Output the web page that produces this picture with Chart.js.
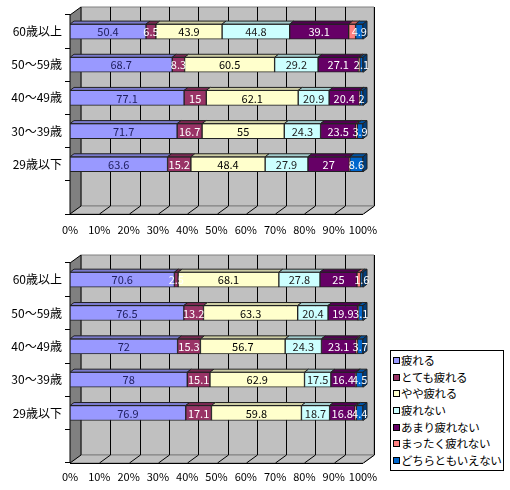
<!DOCTYPE html>
<html>
<head>
<meta charset="utf-8">
<script src="https://cdn.jsdelivr.net/npm/chart.js@4.4.1/dist/chart.umd.min.js"></script>
<style>
body { margin: 0; background: #fff; font-family: "Noto Sans CJK JP", sans-serif; }
#wrap { position: relative; width: 510px; height: 490px; }
canvas { position: absolute; left: 0; }
#topChart { top: 0; }
#bottomChart { top: 245px; }
#legend { position: absolute; left: 390px; top: 350px; width: 110px; border: 1px solid #000; background: #fff; padding: 1px 0 1px 2px; font-size: 11.5px; letter-spacing: -0.3px; color: #000; }
#legend div { height: 16.7px; line-height: 16.7px; white-space: nowrap; }
#legend .sw { display: inline-block; width: 5px; height: 5px; border: 1px solid #000; margin-right: 1px; vertical-align: 1px; }
</style>
</head>
<body>
<div id="wrap">
  <canvas id="topChart" width="510" height="245"></canvas>
  <canvas id="bottomChart" width="510" height="245"></canvas>
  <div id="legend"></div>
</div>
<script>
const ageGroups = ['60歳以上', '50～59歳', '40～49歳', '30～39歳', '29歳以下'];
const seriesNames = ['疲れる', 'とても疲れる', 'やや疲れる', '疲れない', 'あまり疲れない', 'まったく疲れない', 'どちらともいえない'];
const seriesColors = ['#9999FF', '#993366', '#FFFFCC', '#CCFFFF', '#660066', '#FF8080', '#0066CC'];
const labelColors = ['#202060', '#ffffff', '#000000', '#202020', '#ffffff', null, '#ffffff'];
const xTicks = [0, 10, 20, 30, 40, 50, 60, 70, 80, 90, 100];

// upper chart
const topTsukareru  = [50.4, 68.7, 77.1, 71.7, 63.6];
const topTotemo     = [6.5, 8.3, 15, 16.7, 15.2];
const topYaya       = [43.9, 60.5, 62.1, 55, 48.4];
const topTsukarenai = [44.8, 29.2, 20.9, 24.3, 27.9];
const topAmari      = [39.1, 27.1, 20.4, 23.5, 27];
const topMattaku    = [4.6, 1, 0.5, 1, 0.3];
const topDochira    = [4.9, 2.1, 2, 3.9, 8.6];

// lower chart
const botTsukareru  = [70.6, 76.5, 72, 78, 76.9];
const botTotemo     = [2.5, 13.2, 15.3, 15.1, 17.1];
const botYaya       = [68.1, 63.3, 56.7, 62.9, 59.8];
const botTsukarenai = [27.8, 20.4, 24.3, 17.5, 18.7];
const botAmari      = [25, 19.9, 23.1, 16.4, 16.8];
const botMattaku    = [2.5, 0.5, 1, 0.5, 1];
const botDochira    = [1.6, 3.1, 3.7, 4.5, 4.4];

const topSeries = [topTsukareru, topTotemo, topYaya, topTsukarenai, topAmari, topMattaku, topDochira];
const botSeries = [botTsukareru, botTotemo, botYaya, botTsukarenai, botAmari, botMattaku, botDochira];

const FONT = '"Noto Sans CJK JP", sans-serif';
const DX = 11, DY = -8;     // wall depth
const BX = 4, BY = 3;       // bar depth

function shade(hex, f) {
    const n = parseInt(hex.slice(1), 16);
    const r = Math.round(((n >> 16) & 255) * f);
    const g = Math.round(((n >> 8) & 255) * f);
    const b = Math.round((n & 255) * f);
    return `rgb(${r},${g},${b})`;
}

function poly(ctx, pts, fill, stroke) {
    ctx.beginPath();
    ctx.moveTo(pts[0][0], pts[0][1]);
    for (let i = 1; i < pts.length; i++) ctx.lineTo(pts[i][0], pts[i][1]);
    ctx.closePath();
    if (fill) { ctx.fillStyle = fill; ctx.fill(); }
    if (stroke) { ctx.strokeStyle = stroke; ctx.lineWidth = 1; ctx.stroke(); }
}

const wallPlugin = {
    id: 'walls',
    beforeDatasetsDraw(chart) {
        const ctx = chart.ctx;
        const a = chart.chartArea;
        const x = chart.scales.x;
        ctx.save();
        // back wall
        poly(ctx, [[a.left + DX, a.top + DY], [a.right + DX, a.top + DY], [a.right + DX, a.bottom + DY], [a.left + DX, a.bottom + DY]], '#c0c0c0', '#808080');
        // floor
        poly(ctx, [[a.left, a.bottom], [a.left + DX, a.bottom + DY], [a.right + DX, a.bottom + DY], [a.right, a.bottom]], '#c0c0c0', '#808080');
        // grid lines
        ctx.strokeStyle = '#000';
        ctx.lineWidth = 1;
        for (const v of xTicks) {
            if (v === 0) continue;
            const px = Math.round(x.getPixelForValue(v)) + 0.5;
            ctx.beginPath();
            ctx.moveTo(px + DX, a.top + DY);
            ctx.lineTo(px + DX, a.bottom + DY);
            ctx.lineTo(px, a.bottom);
            ctx.stroke();
        }
        // floor front edge
        ctx.beginPath();
        ctx.moveTo(a.left, a.bottom + 0.5);
        ctx.lineTo(a.right, a.bottom + 0.5);
        ctx.stroke();
        // left wall
        poly(ctx, [[a.left, a.top], [a.left + DX, a.top + DY], [a.left + DX, a.bottom + DY], [a.left, a.bottom]], '#808080', '#000');
        ctx.restore();
    },
    afterDatasetsDraw(chart) {
        const ctx = chart.ctx;
        const n = chart.data.datasets.length;
        ctx.save();
        // 3d faces of the bars
        for (let d = 0; d < n; d++) {
            const meta = chart.getDatasetMeta(d);
            const col = seriesColors[d];
            meta.data.forEach((bar, i) => {
                if (chart.data.datasets[d].data[i] == null) return;
                const top = bar.y - bar.height / 2;
                const bottom = bar.y + bar.height / 2;
                poly(ctx, [[bar.base, top], [bar.base + BX, top - BY], [bar.x + BX, top - BY], [bar.x, top]], shade(col, 0.8), '#222');
                if (d === n - 1) {
                    poly(ctx, [[bar.x, top], [bar.x + BX, top - BY], [bar.x + BX, bottom - BY], [bar.x, bottom]], shade(col, 0.6), '#222');
                }
            });
        }
        // value labels
        ctx.font = '11px ' + FONT;
        ctx.textAlign = 'center';
        ctx.textBaseline = 'middle';
        for (let d = 0; d < n; d++) {
            if (!labelColors[d]) continue;
            const meta = chart.getDatasetMeta(d);
            const raw = chart.data.datasets[d].raw;
            meta.data.forEach((bar, i) => {
                if (raw[i] == null) return;
                ctx.fillStyle = labelColors[d];
                ctx.fillText(String(raw[i]), (bar.x + bar.base) / 2, bar.y + 0.5);
            });
        }
        ctx.restore();
    }
};

function makeChart(id, series, padTop, bottomH, tickPad) {
    const totals = ageGroups.map((g, i) => series.reduce((s, arr) => s + arr[i], 0));
    const datasets = series.map((arr, d) => ({
        label: seriesNames[d],
        raw: arr,
        data: arr.map((v, i) => v / totals[i] * 100).concat([null]),
        backgroundColor: seriesColors[d],
        borderColor: '#222',
        borderWidth: 1,
        borderSkipped: false,
        barThickness: 15
    }));
    return new Chart(document.getElementById(id), {
        type: 'bar',
        data: { labels: ageGroups.concat(['']), datasets: datasets },
        plugins: [wallPlugin],
        options: {
            indexAxis: 'y',
            responsive: false,
            animation: false,
            layout: { padding: { top: padTop, right: 147, left: 0, bottom: 0 } },
            plugins: { legend: { display: false }, tooltip: { enabled: false } },
            scales: {
                x: {
                    stacked: true,
                    min: 0,
                    max: 100,
                    grid: { display: false },
                    border: { display: false },
                    afterFit(scale) { scale.height = bottomH; },
                    afterBuildTicks(scale) { scale.ticks = xTicks.map(v => ({ value: v })); },
                    ticks: {
                        padding: tickPad,
                        autoSkip: false,
                        color: '#000',
                        font: { family: FONT, size: 11 },
                        maxRotation: 0,
                        callback: v => v + '%'
                    }
                },
                y: {
                    stacked: true,
                    grid: { display: true, drawOnChartArea: false, drawTicks: true, tickLength: 5, color: '#000', offset: true },
                    border: { display: false },
                    afterFit(scale) { scale.width = 70; },
                    ticks: { padding: 3, color: '#000', font: { family: FONT, size: 12 } }
                }
            }
        }
    });
}

makeChart('topChart', topSeries, 15, 31, 1);
makeChart('bottomChart', botSeries, 18, 27, -1);

// legend
const legend = document.getElementById('legend');
seriesNames.forEach((name, d) => {
    const row = document.createElement('div');
    const sw = document.createElement('span');
    sw.className = 'sw';
    sw.style.background = seriesColors[d];
    row.appendChild(sw);
    row.appendChild(document.createTextNode(name));
    legend.appendChild(row);
});
</script>
</body>
</html>
